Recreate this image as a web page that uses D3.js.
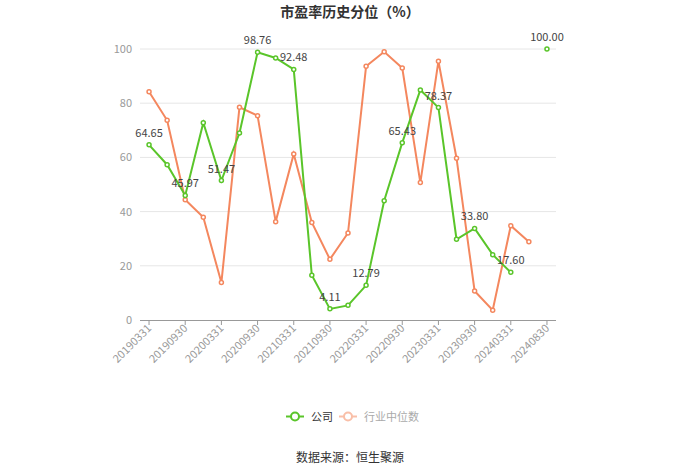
<!DOCTYPE html>
<html><head><meta charset="utf-8">
<script src="https://cdn.jsdelivr.net/npm/d3@7"></script>
<style>body{margin:0;background:#fff;}svg{font-family:"Microsoft YaHei","Noto Sans CJK SC",sans-serif;}</style>
</head><body><svg id="c" width="700" height="474"></svg>
<script>
const categories = ["20190331","20190630","20190930","20191231","20200331","20200630","20200930","20201231","20210331","20210630","20210930","20211231","20220331","20220630","20220930","20221231","20230331","20230630","20230930","20231231","20240331","20240630","20240830"];
const companyValues = [64.65,57.3,45.97,72.8,51.47,69.0,98.76,96.7,92.48,16.5,4.11,5.4,12.79,44.0,65.43,84.9,78.37,29.8,33.80,24.1,17.60,null,100.00];
const industryValues = [84.2,73.7,44.4,37.9,13.8,78.5,75.4,36.3,61.3,36.0,22.4,32.1,93.6,99.0,93.0,50.7,95.5,59.7,10.7,3.6,34.8,28.9,null];
const yTicks = [0,20,40,60,80,100];
const labelIdx = [0,2,4,6,8,10,12,14,16,18,20,22];
const seriesNames = ["公司","行业中位数"];
const titleText = "市盈率历史分位（%）";
const sourceText = "数据来源：恒生聚源";

const green = "#5ac52a", orange = "#f4875e";
const svg = d3.select("#c");
const x = d3.scaleBand().domain(categories).range([140,556]);
const xc = d => x(d) + x.bandwidth()/2;
const y = d3.scaleLinear().domain([0,100]).range([320,49]);

svg.append("text").attr("x",350).attr("y",17).attr("text-anchor","middle")
  .attr("font-size",14).attr("font-weight","bold").attr("fill","#333").text(titleText);

// grid
svg.append("g").selectAll("line").data(yTicks.filter(t=>t>0)).join("line")
  .attr("x1",140).attr("x2",556).attr("y1",d=>y(d)).attr("y2",d=>y(d))
  .attr("stroke","#e6e6e6").attr("stroke-width",1);
svg.append("g").selectAll("text").data(yTicks).join("text")
  .attr("x",132).attr("y",d=>y(d)+4).attr("text-anchor","end")
  .attr("font-size",11).attr("fill","#999").text(d=>d);

// x axis
const xa = svg.append("g");
xa.append("line").attr("x1",140).attr("x2",556).attr("y1",320.5).attr("y2",320.5).attr("stroke","#999");
const tickCats = categories.filter((d,i)=>i%2===0);
xa.selectAll("line.t").data(tickCats).join("line").attr("class","t")
  .attr("x1",d=>xc(d)).attr("x2",d=>xc(d)).attr("y1",320.5).attr("y2",325).attr("stroke","#999");
xa.selectAll("text").data(tickCats).join("text")
  .attr("transform",d=>`translate(${xc(d)+3},${329}) rotate(-45)`)
  .attr("text-anchor","end").attr("font-size",11).attr("fill","#999").text(d=>d);

function drawSeries(vals,color){
  const pts = vals.map((v,i)=>({c:categories[i],v,i})).filter(p=>p.v!==null);
  const line = d3.line().defined(d=>d.v!==null).x(d=>xc(d.c)).y(d=>y(d.v));
  svg.append("path").datum(vals.map((v,i)=>({c:categories[i],v})))
    .attr("d",line).attr("fill","none").attr("stroke",color).attr("stroke-width",2);
  svg.append("g").selectAll("circle").data(pts).join("circle")
    .attr("cx",d=>xc(d.c)).attr("cy",d=>y(d.v)).attr("r",2).attr("fill","#fff")
    .attr("stroke",color).attr("stroke-width",1.5);
}
drawSeries(industryValues,orange);
drawSeries(companyValues,green);

svg.append("g").selectAll("text").data(labelIdx.filter(i=>companyValues[i]!==null)).join("text")
  .attr("x",i=>xc(categories[i])).attr("y",i=>y(companyValues[i])-8)
  .attr("text-anchor","middle").attr("font-size",11).attr("fill","#444")
  .text(i=>companyValues[i].toFixed(2));

// legend
const lg = svg.append("g");
function legendItem(x0,color,textColor,name){
  lg.append("line").attr("x1",x0).attr("x2",x0+18).attr("y1",416.5).attr("y2",416.5).attr("stroke",color).attr("stroke-width",2);
  lg.append("circle").attr("cx",x0+9).attr("cy",416.5).attr("r",4).attr("fill","#fff").attr("stroke",color).attr("stroke-width",2);
  lg.append("text").attr("x",x0+25).attr("y",420.5).attr("font-size",11).attr("fill",textColor).text(name);
}
legendItem(286,green,"#333",seriesNames[0]);
legendItem(339,"#f9bfa8","#aaa",seriesNames[1]);

svg.append("text").attr("x",350).attr("y",462).attr("text-anchor","middle")
  .attr("font-size",12).attr("fill","#333").text(sourceText);
</script></body></html>
